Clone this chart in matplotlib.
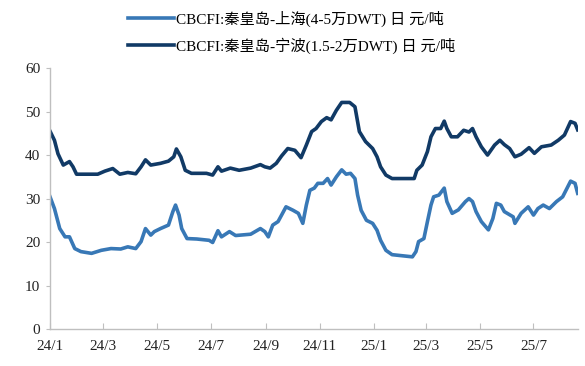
import pandas as pd
import matplotlib
matplotlib.use('Agg')
import matplotlib.pyplot as plt

plt.rcParams['font.family'] = ['Liberation Serif', 'Noto Sans CJK SC']
plt.rcParams['axes.unicode_minus'] = False

# 数据：从2024-01-01起的天数，以及对应运价（元/吨）
start = pd.Timestamp('2024-01-01')
end_day = 597

sh_name = 'CBCFI:秦皇岛-上海(4-5万DWT) 日 元/吨'
sh_days = [0, 5, 11, 17, 22, 28, 35, 47, 58, 69, 80, 88, 97, 103, 108, 114, 118,
           125, 134, 139, 142, 146, 149, 155, 166, 180, 184, 190, 194, 203, 210,
           227, 238, 243, 247, 252, 258, 262, 267, 275, 281, 286, 290, 294, 299,
           303, 309, 314, 318, 324, 330, 335, 340, 345, 348, 352, 358, 365, 370,
           374, 380, 387, 410, 414, 417, 423, 427, 431, 434, 440, 446, 449, 455,
           462, 470, 474, 478, 482, 488, 496, 501, 505, 510, 514, 524, 526, 533,
           541, 547, 552, 558, 565, 573, 580, 589, 594, 597]
sh_vals = [30.4, 27.7, 23.1, 21.2, 21.2, 18.5, 17.8, 17.4, 18.1, 18.5, 18.4, 18.9,
           18.5, 20.1, 23.1, 21.6, 22.4, 23.1, 23.9, 27.0, 28.5, 26.2, 23.1, 20.8,
           20.7, 20.4, 19.9, 22.6, 21.2, 22.4, 21.5, 21.8, 23.1, 22.4, 21.2, 23.9,
           24.7, 26.2, 28.1, 27.3, 26.6, 24.3, 28.5, 31.9, 32.4, 33.5, 33.5, 34.6,
           33.1, 35.0, 36.6, 35.6, 35.8, 34.6, 30.8, 27.3, 25.0, 24.3, 22.7, 20.4,
           18.1, 17.1, 16.6, 17.8, 20.1, 20.8, 24.7, 28.5, 30.4, 30.8, 32.4, 29.3,
           26.6, 27.4, 29.3, 30.0, 29.3, 27.0, 24.7, 22.8, 25.4, 28.9, 28.5, 27.0,
           25.8, 24.3, 26.6, 28.1, 26.2, 27.7, 28.5, 27.7, 29.3, 30.4, 34.0, 33.5,
           31.2]

nb_name = 'CBCFI:秦皇岛-宁波(1.5-2万DWT) 日 元/吨'
nb_days = [0, 5, 9, 15, 22, 26, 30, 54, 62, 71, 79, 88, 97, 103, 108, 114, 125,
           134, 140, 143, 148, 153, 160, 177, 184, 190, 194, 204, 214, 227, 238,
           243, 249, 256, 262, 269, 277, 284, 290, 296, 301, 307, 313, 318, 324,
           330, 339, 345, 350, 357, 365, 370, 374, 380, 387, 412, 415, 421, 427,
           431, 436, 442, 446, 449, 454, 461, 468, 474, 478, 482, 488, 495, 503,
           509, 514, 520, 526, 533, 542, 548, 556, 567, 575, 582, 589, 594, 597]
nb_vals = [45.5, 43.4, 40.3, 37.7, 38.5, 37.3, 35.6, 35.6, 36.3, 36.9, 35.6, 36.0,
           35.7, 37.3, 38.9, 37.7, 38.1, 38.6, 39.6, 41.4, 39.6, 36.5, 35.8, 35.8,
           35.4, 37.3, 36.3, 37.0, 36.5, 37.0, 37.8, 37.3, 37.0, 38.1, 39.8, 41.5,
           41.1, 39.4, 42.3, 45.4, 46.1, 47.7, 48.6, 48.1, 50.3, 52.1, 52.1, 51.1,
           45.4, 43.1, 41.5, 39.6, 37.3, 35.4, 34.6, 34.6, 36.5, 37.7, 40.8, 44.2,
           46.1, 46.1, 47.8, 46.1, 44.2, 44.2, 45.7, 45.3, 46.1, 44.2, 41.9, 40.0,
           42.3, 43.4, 42.4, 41.5, 39.6, 40.2, 41.7, 40.4, 41.9, 42.3, 43.4, 44.6,
           47.7, 47.3, 45.8]

xtick_labels = ['24/1', '24/3', '24/5', '24/7', '24/9', '24/11',
                '25/1', '25/3', '25/5', '25/7']
yticks = [0, 10, 20, 30, 40, 50, 60]


def to_dates(days):
    return start + pd.to_timedelta(days, unit='D')


fig = plt.figure(figsize=(5.85, 3.66), dpi=100)
ax = fig.add_axes([0.0855, 0.101, 0.902, 0.713])

l1, = ax.plot(to_dates(sh_days), sh_vals, color='#3878b6', lw=2.6, label=sh_name)
l2, = ax.plot(to_dates(nb_days), nb_vals, color='#113a66', lw=2.6, label=nb_name)

ax.set_ylim(0, 60)
ax.set_yticks(yticks)
ax.set_xlim(start, start + pd.Timedelta(days=end_day))
xticks = [pd.to_datetime('20' + s, format='%Y/%m') for s in xtick_labels]
ax.set_xticks(xticks)
ax.set_xticklabels(xtick_labels)

for s in ['top', 'right']:
    ax.spines[s].set_visible(False)
for s in ['left', 'bottom']:
    ax.spines[s].set_color('#bfbfbf')
    ax.spines[s].set_linewidth(1.0)
ax.tick_params(axis='x', direction='in', length=4, color='#bfbfbf',
               labelsize=11, pad=8)
ax.tick_params(axis='y', direction='out', length=3, color='#bfbfbf',
               labelsize=11, pad=4)
for t in ax.get_xticklabels() + ax.get_yticklabels():
    t.set_color('#222222')

fig.legend(handles=[l1, l2], loc='upper left', bbox_to_anchor=(0.2, 1.0),
           frameon=False, fontsize=11, handlelength=3.0, handletextpad=0.15,
           labelspacing=0.7, borderaxespad=0.3)

fig.savefig('out.png', dpi=100)
